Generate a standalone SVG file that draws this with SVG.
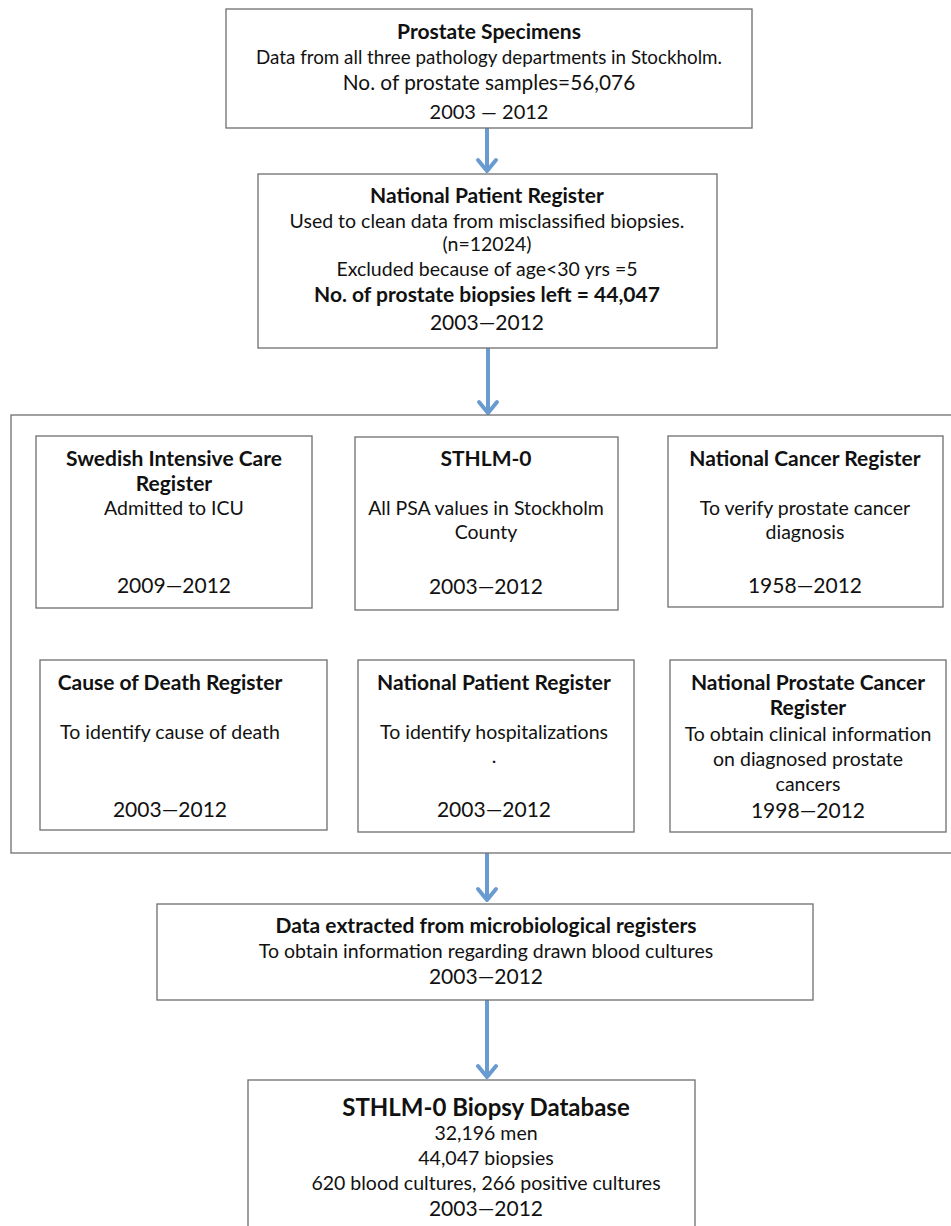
<svg xmlns="http://www.w3.org/2000/svg" width="951" height="1226" viewBox="0 0 951 1226">
<style>
.box{fill:#fff;stroke:#6e6e6e;stroke-width:1.3}
.t{font-family:Lato,"Open Sans","Liberation Sans",sans-serif;fill:#111;text-anchor:middle;font-size:19.5px}
.b{font-weight:bold;font-size:21px}
.y{font-size:21px}
.arr{fill:none;stroke:#6a9bd0;stroke-width:4;stroke-linecap:round;stroke-linejoin:round}
</style>
<rect width="951" height="1226" fill="#fff"/>
<g id="connectors">
<path class="arr" d="M487 129V170M478 160L487 171L496 160"/>
<path class="arr" d="M488 349V412M479 402L488 413L497 402"/>
<path class="arr" d="M487 854V899M478 889L487 900L496 889"/>
<path class="arr" d="M487 1001V1076M478 1066L487 1077L496 1066"/>
</g>
<g id="n1">
<rect class="box" x="226" y="9" width="526" height="119"/>
<text class="t b" x="489" y="39">Prostate Specimens</text>
<text class="t" x="489" y="64" style="font-size:18.8px">Data from all three pathology departments in Stockholm.</text>
<text class="t" x="489" y="90" style="font-size:20.8px">No. of prostate samples=56,076</text>
<text class="t" x="489" y="119" style="font-size:20px">2003 — 2012</text>
</g>
<g id="n2">
<rect class="box" x="258" y="174" width="459" height="174"/>
<text class="t b" x="487" y="203">National Patient Register</text>
<text class="t" x="487" y="228">Used to clean data from misclassified biopsies.</text>
<text class="t" x="487" y="251">(n=12024)</text>
<text class="t" x="487" y="276">Excluded because of age&lt;30 yrs =5</text>
<text class="t b" x="487" y="302">No. of prostate biopsies left = 44,047</text>
<text class="t y" x="487" y="330">2003—2012</text>
</g>
<g id="container">
<rect class="box" x="11" y="415" width="945" height="438"/>
</g>
<g id="n3">
<rect class="box" x="36" y="436" width="276" height="172"/>
<text class="t b" x="174" y="466">Swedish Intensive Care</text>
<text class="t b" x="174" y="491">Register</text>
<text class="t" x="174" y="515">Admitted to ICU</text>
<text class="t y" x="174" y="593">2009—2012</text>
</g>
<g id="n4">
<rect class="box" x="355" y="437" width="263" height="173"/>
<text class="t b" x="486" y="466">STHLM-0</text>
<text class="t" x="486" y="515">All PSA values in Stockholm</text>
<text class="t" x="486" y="539">County</text>
<text class="t y" x="486" y="594">2003—2012</text>
</g>
<g id="n5">
<rect class="box" x="668" y="436" width="275" height="171"/>
<text class="t b" x="805" y="466">National Cancer Register</text>
<text class="t" x="805" y="515">To verify prostate cancer</text>
<text class="t" x="805" y="539">diagnosis</text>
<text class="t y" x="805" y="593">1958—2012</text>
</g>
<g id="n6">
<rect class="box" x="40" y="660" width="287" height="170"/>
<text class="t b" x="170" y="690">Cause of Death Register</text>
<text class="t" x="170" y="739">To identify cause of death</text>
<text class="t y" x="170" y="817">2003—2012</text>
</g>
<g id="n7">
<rect class="box" x="358" y="660" width="276" height="172"/>
<text class="t b" x="494" y="690">National Patient Register</text>
<text class="t" x="494" y="739">To identify hospitalizations</text>
<text class="t" x="494" y="763">.</text>
<text class="t y" x="494" y="817">2003—2012</text>
</g>
<g id="n8">
<rect class="box" x="670" y="660" width="276" height="172"/>
<text class="t b" x="808" y="690">National Prostate Cancer</text>
<text class="t b" x="808" y="715">Register</text>
<text class="t" x="808" y="741">To obtain clinical information</text>
<text class="t" x="808" y="766">on diagnosed prostate</text>
<text class="t" x="808" y="791">cancers</text>
<text class="t y" x="808" y="818">1998—2012</text>
</g>
<g id="n9">
<rect class="box" x="157" y="904" width="656" height="96"/>
<text class="t b" x="486" y="933">Data extracted from microbiological registers</text>
<text class="t" x="486" y="958">To obtain information regarding drawn blood cultures</text>
<text class="t y" x="486" y="984">2003—2012</text>
</g>
<g id="n10">
<rect class="box" x="248" y="1080" width="447" height="160"/>
<text class="t b" x="486" y="1116" style="font-size:24px">STHLM-0 Biopsy Database</text>
<text class="t" x="486" y="1140">32,196 men</text>
<text class="t" x="486" y="1165">44,047 biopsies</text>
<text class="t" x="486" y="1190">620 blood cultures, 266 positive cultures</text>
<text class="t y" x="486" y="1216">2003—2012</text>
</g>
</svg>
